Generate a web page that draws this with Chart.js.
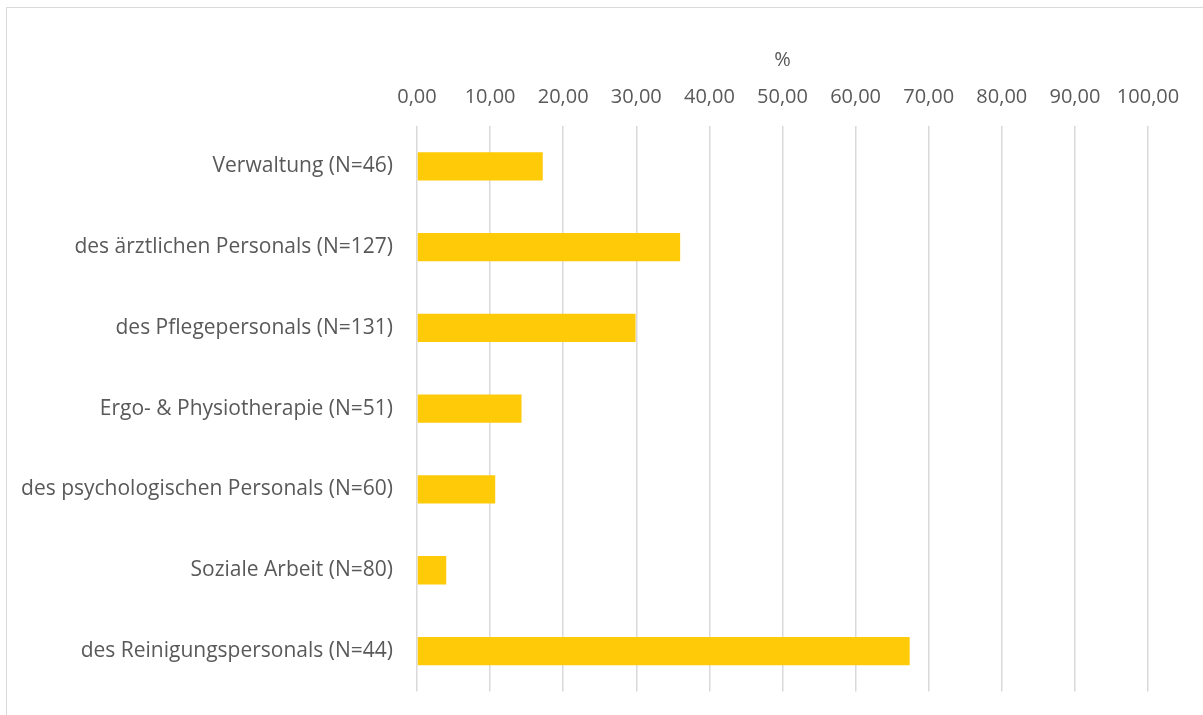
<!DOCTYPE html>
<html>
<head>
<meta charset="utf-8">
<script src="https://cdn.jsdelivr.net/npm/chart.js@4"></script>
<style>
    html, body { margin: 0; padding: 0; background: #fff; overflow: hidden; }
    #wrap { position: relative; width: 1203px; height: 715px; overflow: hidden; }
    #frame { position: absolute; left: 6px; top: 7px; width: 1210px; height: 720px; border: 1px solid #d9d9d9; box-sizing: border-box; }
    canvas { position: absolute; left: 0; top: 0; }
</style>
</head>
<body>
<div id="wrap">
    <div id="frame"></div>
    <canvas id="chart" width="1203" height="728"></canvas>
</div>
<script>
// Values
const categories = [
    'Verwaltung (N=46)',
    'des ärztlichen Personals (N=127)',
    'des Pflegepersonals (N=131)',
    'Ergo- & Physiotherapie (N=51)',
    'des psychologischen Personals (N=60)',
    'Soziale Arbeit (N=80)',
    'des Reinigungspersonals (N=44)'
];
const percentValues = [17.2, 36.0, 29.9, 14.3, 10.7, 4.0, 67.4];
const xTicks = [0, 10, 20, 30, 40, 50, 60, 70, 80, 90, 100];
const axisTitle = '%';

const fontFamily = "'Open Sans', Lato, sans-serif";
const textColor = '#595959';

// Format 10 -> "10,00" (German decimal comma)
const fmt = value => Number(value).toFixed(2).replace('.', ',');

document.addEventListener('DOMContentLoaded', () => {
    const ctx = document.getElementById('chart');
    new Chart(ctx, {
        type: 'bar',
        data: {
            labels: categories,
            datasets: [{
                data: percentValues,
                backgroundColor: '#ffca08',
                borderWidth: 0,
                barPercentage: 0.35,
                categoryPercentage: 1
            }]
        },
        options: {
            indexAxis: 'y',
            responsive: false,
            animation: false,
            layout: { padding: { left: 0, top: 0, right: 55, bottom: 10 } },
            scales: {
                x: {
                    position: 'top',
                    min: 0,
                    max: 100,
                    afterBuildTicks: scale => { scale.ticks = xTicks.map(v => ({ value: v })) },
                    afterFit: scale => { scale.height = 126 },
                    grid: { color: '#d9d9d9', lineWidth: 1.5, drawTicks: false },
                    border: { display: false },
                    ticks: {
                        callback: value => fmt(value),
                        color: textColor,
                        font: { family: fontFamily, size: 20 },
                        padding: 17,
                        maxRotation: 0
                    },
                    title: {
                        display: true,
                        text: axisTitle,
                        color: textColor,
                        font: { family: fontFamily, size: 20 },
                        padding: { top: 48, bottom: 0 }
                    }
                },
                y: {
                    afterFit: scale => { scale.width = 417 },
                    grid: { display: false, drawTicks: false },
                    border: { display: false },
                    ticks: {
                        color: textColor,
                        font: { family: fontFamily, size: 21 },
                        padding: 24
                    }
                }
            },
            plugins: {
                legend: { display: false },
                tooltip: { enabled: false }
            }
        }
    });
});
</script>
</body>
</html>
